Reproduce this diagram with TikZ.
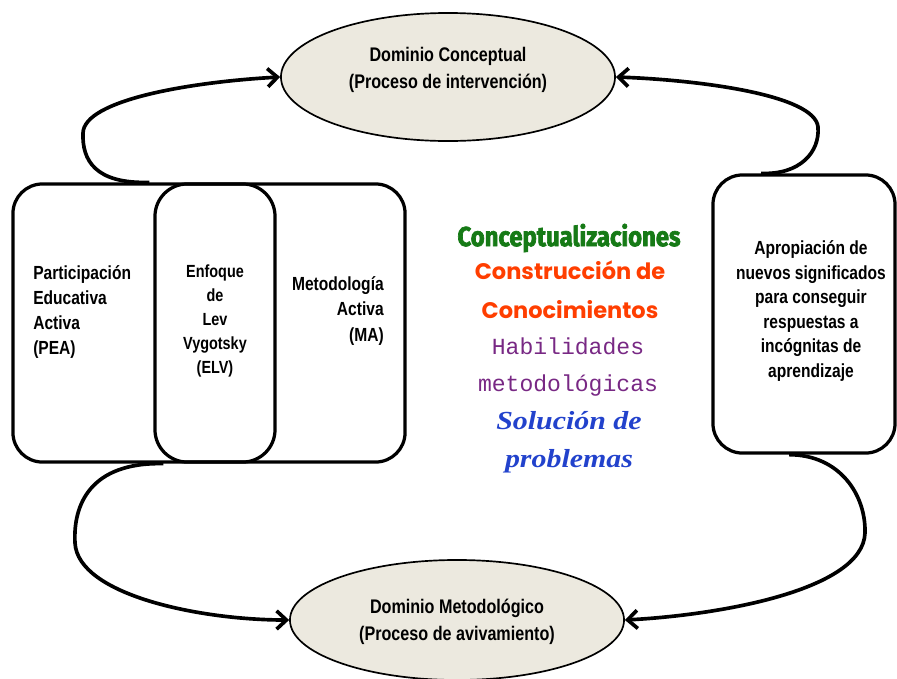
\documentclass[tikz,border=0pt]{standalone}
\usepackage{fontspec}
\setmainfont{Liberation Sans}[FakeStretch=0.82]
\newfontfamily\gruesafont{Fira Sans}[FakeStretch=0.87, FakeBold=2.5]
\newfontfamily\rotafont{Poppins}
\newfontfamily\maquinafont{Liberation Mono}
\newfontfamily\cursivafont{Liberation Serif}[FakeStretch=1.15]
\usetikzlibrary{arrows.meta}
\usetikzlibrary{positioning}
\usetikzlibrary{shapes.geometric}
\definecolor{elfill}{RGB}{236,233,223}
\definecolor{verde}{RGB}{22,122,22}
\definecolor{naranja}{RGB}{255,62,0}
\definecolor{morado}{RGB}{120,40,132}
\definecolor{azul}{RGB}{34,66,204}
\tikzset{caja/.style = {draw, line width=2.3pt, rounded corners=21pt, inner sep=0},
  elip/.style = {draw, ellipse, fill=elfill, line width=1.2pt, inner sep=0},
  txt/.style = {inner sep=0, font=\bfseries\fontsize{13.5}{17.8}\selectfont},
  txtelip/.style = {inner sep=0, align=center, font=\bfseries\fontsize{14}{19.2}\selectfont},
  lazo/.style = {line width=2.6pt, -{Straight Barb[length=7pt,width=13pt]}}}

\begin{document}
\begin{tikzpicture}[x=0.025cm, y=-0.025cm]
  \useasboundingbox (0,0) rectangle (897,679);
  % dominios
  \node [elip, minimum width=8.35cm, minimum height=3.2cm] (dcon) at (448,77) {};
  \node [txtelip] (tcon) at (448,70) {Dominio Conceptual\\(Proceso de intervención)};
  \node [elip, minimum width=8.35cm, minimum height=3cm] (dmet) at (457,620) {};
  \node [txtelip] (tmet) at (457,622) {Dominio Metodológico\\(Proceso de avivamiento)};
  % cajas
  \node [caja, minimum width=9.8cm, minimum height=6.95cm] (pea) at (209,323) {};
  \node [caja, rounded corners=23pt, minimum width=3cm, minimum height=6.95cm] (elv) at (215,323) {};
  \node [caja, minimum width=4.55cm, minimum height=6.95cm] (apro) at (804,314) {};
  \node [txt, anchor=west, align=left] (tpea) at (33,312)
    {Participación\\Educativa\\Activa\\(PEA)};
  \node [txt, align=center, font=\bfseries\fontsize{12.5}{17}\selectfont] (telv) at (215,321)
    {Enfoque\\de\\Lev\\Vygotsky\\(ELV)};
  \node [txt, anchor=east, align=right] (tma) at (384,311)
    {Metodología\\Activa\\(MA)};
  \node [txt, align=center, font=\bfseries\fontsize{13.5}{17.4}\selectfont] (tapro) at (811,311)
    {Apropiación de\\nuevos significados\\para conseguir\\respuestas a\\incógnitas de\\aprendizaje};
  % centro
  \node [text=verde, font=\gruesafont\bfseries\fontsize{19.5}{22}\selectfont] (conc) at (569,238)
    {Conceptualizaciones};
  \node [text=naranja, align=center, font=\rotafont\bfseries\fontsize{16}{27.5}\selectfont] (cons) at (570,290)
    {Construcción de\\Conocimientos};
  \node [text=morado, align=center, font=\maquinafont\fontsize{16.4}{26}\selectfont] (habi) at (568,367)
    {Habilidades\\metodológicas};
  \node [text=azul, align=center, font=\cursivafont\bfseries\itshape\fontsize{18.5}{27}\selectfont] (solu) at (569,442)
    {Solución de\\problemas};
  % lazos
  \draw [lazo] (pea.113) .. controls (95,184) and (82,160) .. (83,133)
    .. controls (84,100) and (190,82) .. (dcon.west);
  \draw [lazo] (apro.107) .. controls (800,175) and (820,152) .. (818,127)
    .. controls (815,95) and (700,80) .. (dcon.east);
  \draw [lazo] (pea.252) .. controls (90,462) and (73,505) .. (75,543)
    .. controls (78,595) and (200,620) .. (dmet.west);
  \draw [lazo] (apro.264) .. controls (840,455) and (866,495) .. (865,533)
    .. controls (863,590) and (720,615) .. (dmet.east);
\end{tikzpicture}
\end{document}
